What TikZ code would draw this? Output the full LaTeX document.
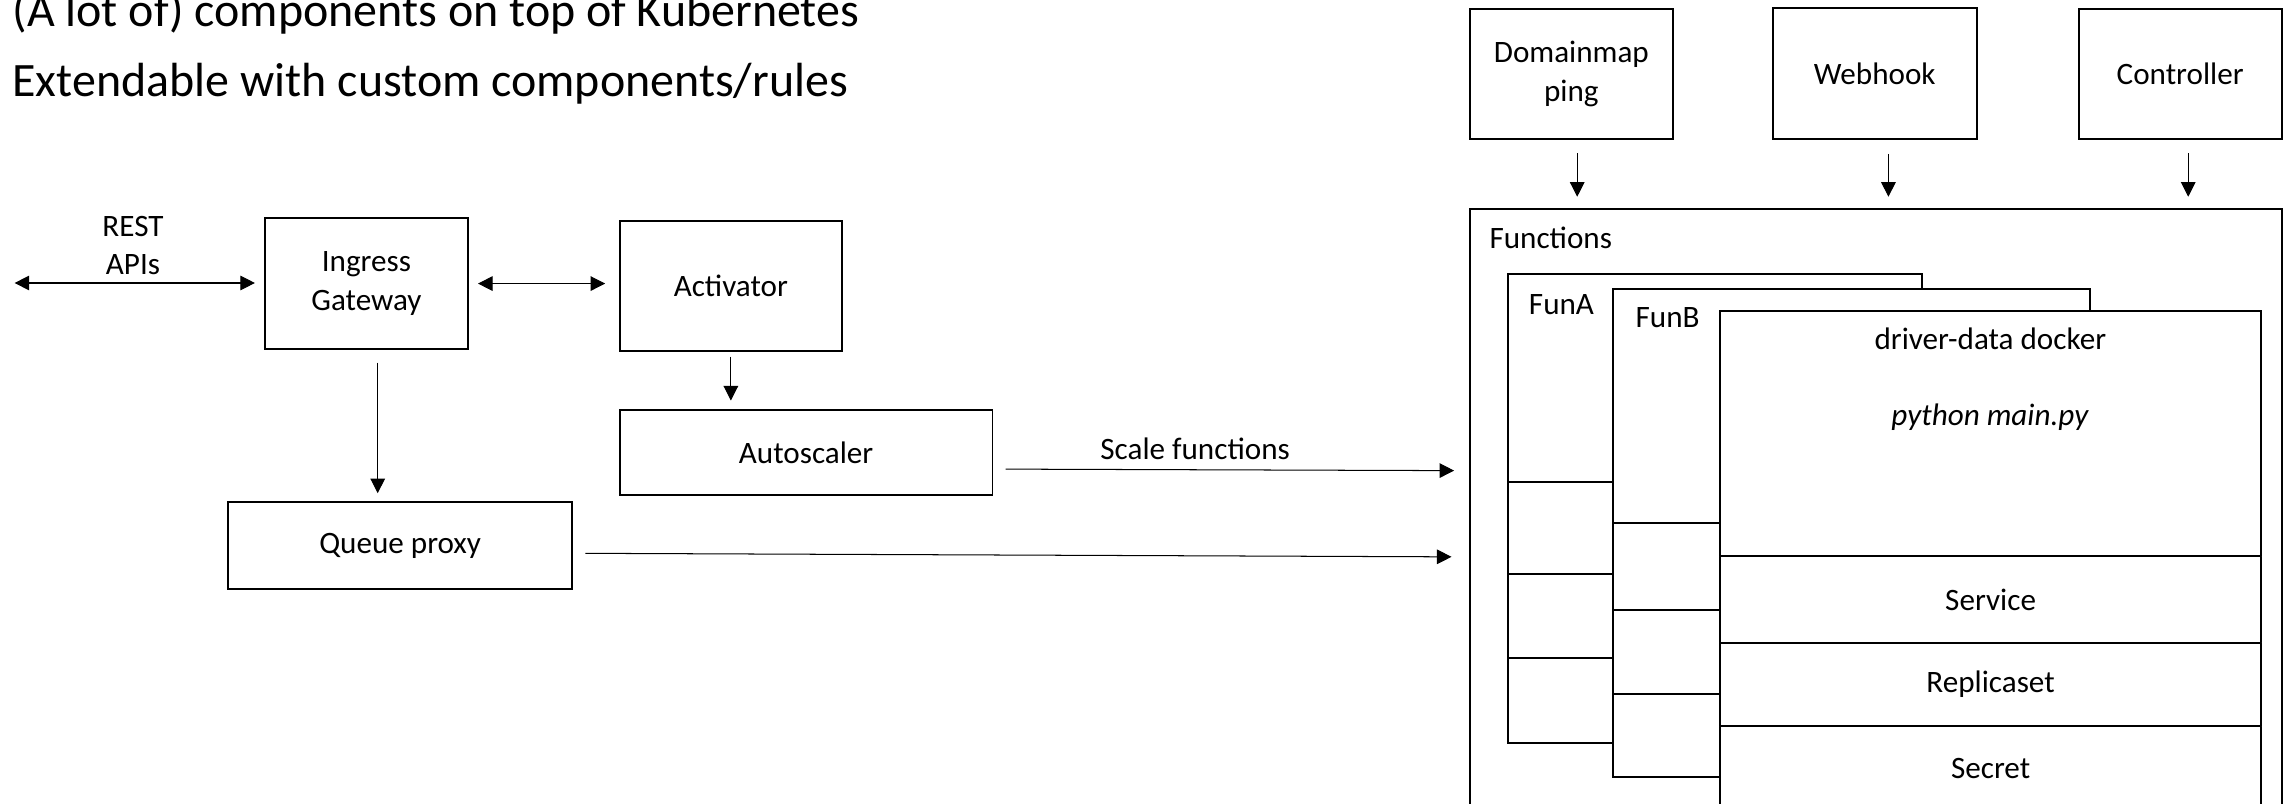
\documentclass[tikz,border=0pt]{standalone}
\usepackage{fontspec}
\setmainfont{Carlito}
\usetikzlibrary{arrows.meta}

\definecolor{c000000}{RGB}{0,0,0}

\begin{document}
\begin{tikzpicture}[y=1pt, x=1pt, inner sep=0pt, outer sep=0pt,
  every node/.append style={font=\fontsize{21.3}{26.5}\selectfont},
  box/.style={draw=c000000, fill=white, line width=1.3pt, align=center},
  card/.style={draw=c000000, fill=white, line width=1.3pt, line join=miter},
  arr/.style={draw=c000000, line width=0.7pt, -{Triangle[length=10pt,width=10pt]}},
  dblarr/.style={arr, {Triangle[length=10pt,width=10pt]}-{Triangle[length=10pt,width=10pt]}},
  title/.style={font=\fontsize{32.8}{39}\selectfont, anchor=base west}]
  \useasboundingbox (0, 0) rectangle (1568, 550);
  \path[fill=white] (0, 0) rectangle (1568, 550);

  % heading
  \node[title] (titleone) at (8.6, 531.8) {(A lot of) components on top of Kubernetes};
  \node[title] (titletwo) at (8.6, 483.9) {Extendable with custom components/rules};

  % left side
  \node[align=center] (restapis) at (91, 382) {REST\\APIs};
  \coordinate (restend) at (10, 356.4);

  \node[box, minimum width=138.6pt, minimum height=90pt] (ingress) at (250.7, 356) {Ingress\\Gateway};
  \node[box, minimum width=152pt, minimum height=89pt] (activator) at (500, 354.5) {Activator};
  \node[box, minimum width=255pt, minimum height=58.2pt] (autoscaler) at (551.5, 240.4) {Autoscaler};
  \node[box, minimum width=235.5pt, minimum height=59.4pt] (queue) at (273.75, 176.7) {Queue proxy};

  % right side
  \node[box, minimum width=139pt, minimum height=89pt] (domain) at (1075, 499.5) {Domainmap\\ping};
  \node[box, minimum width=139.5pt, minimum height=89.6pt] (webhook) at (1282.5, 499.5) {Webhook};
  \node[box, minimum width=139pt, minimum height=89pt] (controller) at (1491.5, 499.5) {Controller};

  \node[box, anchor=north west, minimum width=555.5pt, minimum height=427pt] (functions) at (1005.5, 407) {};
  \node[anchor=base west] (functionslabel) at ([xshift=13.5pt, yshift=-27pt]functions.north west) {Functions};

  % FunA
  \path[card] (1031.5, 41.6) rectangle (1314.7, 362.3);
  \path[card] (1031.5, 220.2) -- (1314.7, 220.2);
  \path[card] (1031.5, 157.2) -- (1314.7, 157.2);
  \path[card] (1031.5, 99.7) -- (1314.7, 99.7);
  \node[anchor=base west] (funa) at (1046, 335) {FunA};

  % FunB
  \path[card] (1103.6, 18.7) rectangle (1430, 352.3);
  \path[card] (1103.6, 192.5) -- (1430, 192.5);
  \path[card] (1103.6, 132.4) -- (1430, 132.4);
  \path[card] (1103.6, 75.1) -- (1430, 75.1);
  \node[anchor=base west] (funb) at (1119, 326) {FunB};

  % front card
  \path[card] (1176.5, -20) rectangle (1547, 337.5);
  \path[card] (1176.5, 169.4) -- (1547, 169.4);
  \path[card] (1176.5, 110.2) -- (1547, 110.2);
  \path[card] (1176.5, 53.2) -- (1547, 53.2);
  \node[anchor=base] (driverdata) at (1361.6, 311) {driver-data docker};
  \node[anchor=base] (pymain) at (1361.3, 259.2) {\itshape python main.py};
  \node (service) at (1361.8, 139.8) {Service};
  \node (replicaset) at (1361.8, 81.6) {Replicaset};
  \node (secret) at (1361.8, 24.5) {Secret};

  % connectors
  \draw[dblarr, shorten >=7pt] (restend) -- (restend -| ingress.west);
  \draw[dblarr, shorten <=7pt, shorten >=10pt] (ingress.east) -- (ingress.east -| activator.west);
  \draw[arr, shorten <=4pt, shorten >=6.5pt] (activator.south) -- (activator.south |- autoscaler.north);
  \draw[arr, shorten <=9pt, shorten >=6.2pt] ([xshift=7.7pt]ingress.south) -- ([xshift=7.7pt]ingress.south |- queue.north);
  \draw[arr, shorten <=9pt, shorten >=10.7pt] ([yshift=-11.3pt]autoscaler.east) -- ([yshift=-179pt]functions.north west)
    node[pos=0.4245, anchor=base, yshift=6.7pt] (scalelabel) {Scale functions};
  \draw[arr, shorten <=9pt, shorten >=12.5pt] ([yshift=-5.2pt]queue.east) -- ([yshift=-238pt]functions.north west);

  \draw[arr, shorten <=10pt, shorten >=8.4pt] ([xshift=4pt]domain.south) -- ([xshift=4pt]domain.south |- functions.north);
  \draw[arr, shorten <=10pt, shorten >=8.4pt] ([xshift=9.4pt]webhook.south) -- ([xshift=9.4pt]webhook.south |- functions.north);
  \draw[arr, shorten <=10pt, shorten >=8.4pt] ([xshift=5.5pt]controller.south) -- ([xshift=5.5pt]controller.south |- functions.north);

\end{tikzpicture}
\end{document}
